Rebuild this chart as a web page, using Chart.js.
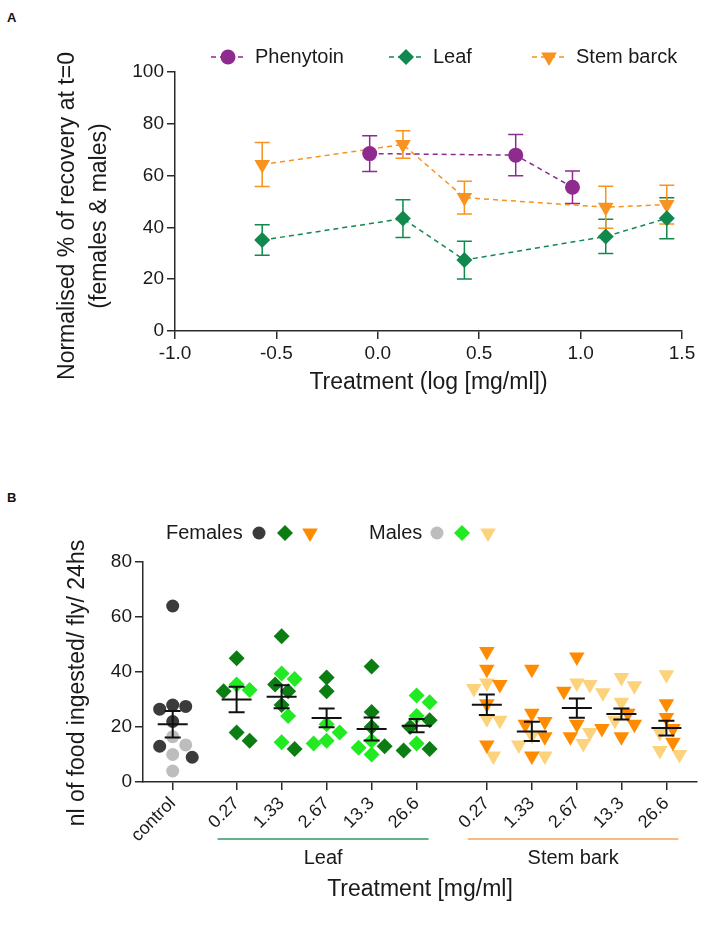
<!DOCTYPE html>
<html>
<head>
<meta charset="utf-8">
<script src="https://cdn.jsdelivr.net/npm/chart.js@4.4.0/dist/chart.umd.min.js"></script>
<style>
  body { margin: 0; background: #fff; }
  #wrap { position: relative; width: 708px; height: 925px; font-family: "Liberation Sans", Arial, sans-serif; }
  .tag { position: absolute; left: 7px; font-weight: bold; font-size: 13px; color: #111; }
  canvas { position: absolute; left: 0; }
</style>
</head>
<body>
<div id="wrap">
  <div class="tag" style="top:10px">A</div>
  <div class="tag" style="top:490px">B</div>
  <canvas id="chartA" width="708" height="405" style="top:0"></canvas>
  <canvas id="chartB" width="708" height="520" style="top:405px"></canvas>
</div>
<script>
// ---- panel A : normalised recovery vs log dose ----
var doseLog = [-0.57, 0.124, 0.427, 1.124, 1.425];
var phenLog = [-0.04, 0.68, 0.96];
var phenMean = [68.5, 67.9, 55.5];
var phenSem = [6.9, 8.0, 6.3];
var leafMean = [35.1, 43.4, 27.4, 36.5, 43.5];
var leafSem = [5.9, 7.3, 7.3, 6.6, 7.9];
var barkMean = [64.3, 72.0, 51.5, 47.8, 48.8];
var barkSem = [8.5, 5.3, 6.3, 8.1, 7.5];

// ---- panel B : food ingested per fly ----
var treatLabels = ["control", "0.27", "1.33", "2.67", "13.3", "26.6", "0.27", "1.33", "2.67", "13.3", "26.6"];
var groupNames = ["Leaf", "Stem bark"];
var femalesB = [
  [64, 28, 27.5, 26.5, 22, 13, 9],
  [45, 33, 18, 15],
  [53, 35.5, 33, 28, 12],
  [38, 33],
  [42, 25.5, 20, 13],
  [22.5, 20, 12, 11.5],
  [47.5, 41, 35.5, 28.5, 13.5],
  [41, 25, 22, 21, 16.5, 9.5],
  [45.5, 33, 21, 16.5],
  [25, 21, 19.5, 16.5],
  [28.5, 23.5, 19.5, 14.5]
];
var malesB = [
  [16.5, 13.5, 10, 4],
  [35.5, 33.5],
  [39.5, 37.5, 24, 14.5],
  [21, 18, 15, 14],
  [15, 12.5, 10],
  [31.5, 29, 24, 14],
  [36, 34, 23, 22.5, 9.5],
  [17, 13.5, 9.5],
  [36, 35.5, 32.5, 18, 14],
  [38, 35, 29, 22.5],
  [39, 18, 11.5, 10]
];
var meanB = [21, 30, 31, 23.3, 19.3, 20.5, 28.1, 18.4, 26.9, 24.7, 19.6];
var semB = [4.8, 4.6, 4.2, 3.4, 4.2, 2.4, 3.7, 3.5, 3.5, 2.0, 2.7];

var FONT = '"Liberation Sans", Arial, sans-serif';
Chart.defaults.font.family = FONT;
Chart.defaults.color = "#1a1a1a";

var purple = "#8f2a8f", green = "#11884e", orange = "#f7931e";
var axisCol = "#2a2a2a";

function pts(xs, ys) {
  return xs.map(function (x, i) { return { x: x, y: ys[i] }; });
}

// rotated y title, lines stacked left to right
function vTitle(ctx, lines, x, dx, cy, size) {
  ctx.save();
  ctx.translate(x, cy);
  ctx.rotate(-Math.PI / 2);
  ctx.fillStyle = "#1a1a1a";
  ctx.font = size + "px " + FONT;
  ctx.textAlign = "center";
  ctx.textBaseline = "middle";
  lines.forEach(function (t, i) { ctx.fillText(t, 0, i * dx); });
  ctx.restore();
}

function hTitle(ctx, text, cx, cy, size) {
  ctx.save();
  ctx.fillStyle = "#1a1a1a";
  ctx.font = size + "px " + FONT;
  ctx.textAlign = "center";
  ctx.textBaseline = "middle";
  ctx.fillText(text, cx, cy);
  ctx.restore();
}

// error bars behind the markers (panel A)
var errBars = {
  id: "errBars",
  beforeDatasetsDraw: function (chart) {
    var ctx = chart.ctx, ys = chart.scales.y;
    chart.data.datasets.forEach(function (ds, di) {
      var meta = chart.getDatasetMeta(di);
      ctx.save();
      ctx.strokeStyle = ds.borderColor;
      ctx.lineWidth = 1.5;
      meta.data.forEach(function (p, i) {
        var v = ds.data[i].y, e = ds.sem[i];
        var t = ys.getPixelForValue(v + e), b = ys.getPixelForValue(v - e);
        ctx.beginPath();
        ctx.moveTo(p.x, t); ctx.lineTo(p.x, b);
        ctx.moveTo(p.x - 7.5, t); ctx.lineTo(p.x + 7.5, t);
        ctx.moveTo(p.x - 7.5, b); ctx.lineTo(p.x + 7.5, b);
        ctx.stroke();
      });
      ctx.restore();
    });
  }
};

var decorA = {
  id: "decorA",
  afterDraw: function (chart) {
    var ctx = chart.ctx, y = 57;
    var starts = [211, 389, 532];
    ctx.save();
    chart.data.datasets.forEach(function (ds, i) {
      var x0 = starts[i];
      ctx.strokeStyle = ds.borderColor;
      ctx.lineWidth = 1.5;
      ctx.setLineDash([5, 4]);
      ctx.beginPath(); ctx.moveTo(x0, y); ctx.lineTo(x0 + 34, y); ctx.stroke();
      ctx.setLineDash([]);
      ctx.fillStyle = ds.backgroundColor;
      Chart.helpers.drawPoint(ctx, { pointStyle: ds.pointStyle, radius: ds.pointRadius, rotation: ds.pointRotation || 0, borderWidth: 0 }, x0 + 17, y);
      ctx.fillStyle = "#1a1a1a";
      ctx.font = "20px " + FONT;
      ctx.textBaseline = "middle";
      ctx.fillText(ds.label, x0 + 44, y);
    });
    ctx.restore();
    var ca = chart.chartArea;
    vTitle(ctx, ["Normalised % of recovery at t=0", "(females & males)"], 68, 32, 216, 23);
    hTitle(ctx, "Treatment (log [mg/ml])", (ca.left + ca.right) / 2, 383, 23);
  }
};

new Chart(document.getElementById("chartA"), {
  type: "scatter",
  data: {
    datasets: [
      { label: "Phenytoin", data: pts(phenLog, phenMean), sem: phenSem, showLine: true,
        borderColor: purple, backgroundColor: purple, borderWidth: 1.5, borderDash: [5, 4],
        pointStyle: "circle", pointRadius: 7.5, pointBorderWidth: 0 },
      { label: "Leaf", data: pts(doseLog, leafMean), sem: leafSem, showLine: true,
        borderColor: green, backgroundColor: green, borderWidth: 1.5, borderDash: [5, 4],
        pointStyle: "rectRot", pointRadius: 8, pointBorderWidth: 0 },
      { label: "Stem barck", data: pts(doseLog, barkMean), sem: barkSem, showLine: true,
        borderColor: orange, backgroundColor: orange, borderWidth: 1.5, borderDash: [5, 4],
        pointStyle: "triangle", pointRotation: 180, pointRadius: 9, pointBorderWidth: 0 }
    ]
  },
  options: {
    responsive: false,
    animation: false,
    layout: { padding: { top: 72, right: 26 } },
    plugins: { legend: { display: false }, tooltip: { enabled: false } },
    scales: {
      x: {
        type: "linear", min: -1, max: 1.5,
        ticks: { stepSize: 0.5, font: { size: 19 }, color: "#1a1a1a", padding: 3,
          callback: function (v) { return v.toFixed(1); } },
        grid: { drawOnChartArea: false, tickLength: 8, color: axisCol, lineWidth: 1.5 },
        border: { color: axisCol, width: 1.5 },
        afterFit: function (s) { s.height = 74; }
      },
      y: {
        min: 0, max: 100,
        ticks: { stepSize: 20, font: { size: 19 }, color: "#1a1a1a", padding: 3 },
        grid: { drawOnChartArea: false, tickLength: 8, color: axisCol, lineWidth: 1.5 },
        border: { color: axisCol, width: 1.5 },
        afterFit: function (s) { s.width = 175; }
      }
    }
  },
  plugins: [errBars, decorA]
});

// ---- panel B layout ----
var slotPos = [0, 1.42, 2.42, 3.42, 4.42, 5.42, 6.98, 7.98, 8.98, 9.97, 10.97];
var pxPerSlot = 45, pxPerUnit = 2.75;

// simple beeswarm: spread overlapping points sideways
function swarm(vals) {
  var gap = 12.5, step = 6.5;
  var order = vals.map(function (v, i) { return i; }).sort(function (a, b) { return vals[b] - vals[a]; });
  var placed = [], off = [];
  order.forEach(function (i) {
    var y = vals[i] * pxPerUnit;
    for (var k = 0; k < 30; k++) {
      var c = k === 0 ? 0 : (k % 2 ? 1 : -1) * Math.ceil(k / 2) * step;
      var ok = placed.every(function (p) { return Math.hypot(p.x - c, p.y - y) >= gap; });
      if (ok) { off[i] = c; placed.push({ x: c, y: y }); break; }
    }
  });
  return off;
}

var bins = { ctrlF: [], ctrlM: [], leafF: [], leafM: [], barkF: [], barkM: [] };
treatLabels.forEach(function (lab, s) {
  var all = femalesB[s].concat(malesB[s]);
  var off = swarm(all);
  var kind = s === 0 ? "ctrl" : (s <= 5 ? "leaf" : "bark");
  all.forEach(function (v, j) {
    var p = { x: slotPos[s] + off[j] / pxPerSlot, y: v };
    if (j < femalesB[s].length) bins[kind + "F"].push(p); else bins[kind + "M"].push(p);
  });
});

function dotSet(label, data, color, style, r, rot) {
  return { label: label, data: data, backgroundColor: color, borderColor: color,
    pointStyle: style, pointRadius: r, pointRotation: rot || 0, pointBorderWidth: 0 };
}

var meanBars = {
  id: "meanBars",
  afterDatasetsDraw: function (chart) {
    var ctx = chart.ctx, xs = chart.scales.x, ys = chart.scales.y;
    ctx.save();
    ctx.strokeStyle = "#111";
    ctx.lineWidth = 2;
    meanB.forEach(function (m, i) {
      var x = xs.getPixelForValue(slotPos[i]);
      var ym = ys.getPixelForValue(m), t = ys.getPixelForValue(m + semB[i]), b = ys.getPixelForValue(m - semB[i]);
      ctx.beginPath();
      ctx.moveTo(x - 15, ym); ctx.lineTo(x + 15, ym);
      ctx.moveTo(x, t); ctx.lineTo(x, b);
      ctx.moveTo(x - 8, t); ctx.lineTo(x + 8, t);
      ctx.moveTo(x - 8, b); ctx.lineTo(x + 8, b);
      ctx.stroke();
    });
    ctx.restore();
  }
};

var decorB = {
  id: "decorB",
  afterDraw: function (chart) {
    var ctx = chart.ctx, xs = chart.scales.x, ca = chart.chartArea;
    // group underlines and names
    var spans = [[1, 5, "#2f9a5c"], [6, 10, "#f6a458"]];
    ctx.save();
    spans.forEach(function (g, i) {
      var a = xs.getPixelForValue(slotPos[g[0]]) - 19, b = xs.getPixelForValue(slotPos[g[1]]) + 12;
      ctx.strokeStyle = g[2];
      ctx.lineWidth = 1.5;
      ctx.beginPath(); ctx.moveTo(a, 434); ctx.lineTo(b, 434); ctx.stroke();
      hTitle(ctx, groupNames[i], (a + b) / 2, 453, 20);
    });
    ctx.restore();
    // legend rows
    var y = 128;
    var rows = [
      { text: "Females", x: 166, marks: [[259, "#3b3b3b", "circle", 6.5, 0], [285, "#0b7d12", "rectRot", 8, 0], [310, "#ff8c00", "triangle", 9, 180]] },
      { text: "Males", x: 369, marks: [[437, "#bdbdbd", "circle", 6.5, 0], [462, "#22ea22", "rectRot", 8, 0], [488, "#fdd27c", "triangle", 9, 180]] }
    ];
    ctx.save();
    rows.forEach(function (r) {
      ctx.fillStyle = "#1a1a1a";
      ctx.font = "20px " + FONT;
      ctx.textBaseline = "middle";
      ctx.fillText(r.text, r.x, y);
      r.marks.forEach(function (m) {
        ctx.fillStyle = m[1];
        Chart.helpers.drawPoint(ctx, { pointStyle: m[2], radius: m[3], rotation: m[4], borderWidth: 0 }, m[0], y);
      });
    });
    ctx.restore();
    vTitle(ctx, ["nl of food ingested/ fly/ 24hs"], 78, 0, 278, 23);
    hTitle(ctx, "Treatment [mg/ml]", (ca.left + ca.right) / 2, 485, 23);
  }
};

new Chart(document.getElementById("chartB"), {
  type: "scatter",
  data: {
    datasets: [
      dotSet("control F", bins.ctrlF, "#3b3b3b", "circle", 6.5),
      dotSet("control M", bins.ctrlM, "#bdbdbd", "circle", 6.5),
      dotSet("Leaf F", bins.leafF, "#0b7d12", "rectRot", 8),
      dotSet("Leaf M", bins.leafM, "#22ea22", "rectRot", 8),
      dotSet("Stem bark F", bins.barkF, "#ff8c00", "triangle", 9, 180),
      dotSet("Stem bark M", bins.barkM, "#fdd27c", "triangle", 9, 180)
    ]
  },
  options: {
    responsive: false,
    animation: false,
    layout: { padding: { top: 157, right: 11 } },
    plugins: { legend: { display: false }, tooltip: { enabled: false } },
    scales: {
      x: {
        type: "linear", min: -0.66, max: 11.65,
        afterBuildTicks: function (s) { s.ticks = slotPos.map(function (v) { return { value: v }; }); },
        ticks: { autoSkip: false, minRotation: 45, maxRotation: 45, font: { size: 18 }, color: "#1a1a1a", padding: 3,
          callback: function (v, i) { return treatLabels[i]; } },
        grid: { drawOnChartArea: false, tickLength: 8, color: axisCol, lineWidth: 1.5 },
        border: { color: axisCol, width: 1.5 },
        afterFit: function (s) { s.height = 143; }
      },
      y: {
        min: 0, max: 80,
        ticks: { stepSize: 20, font: { size: 19 }, color: "#1a1a1a", padding: 3 },
        grid: { drawOnChartArea: false, tickLength: 8, color: axisCol, lineWidth: 1.5 },
        border: { color: axisCol, width: 1.5 },
        afterFit: function (s) { s.width = 143; }
      }
    }
  },
  plugins: [meanBars, decorB]
});
</script>
</body>
</html>
